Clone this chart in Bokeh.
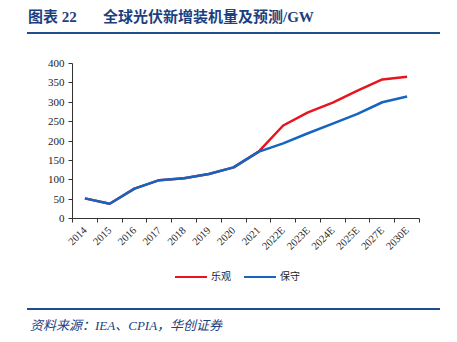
from bokeh.plotting import figure
from bokeh.models import (Range1d, FixedTicker, ColumnDataSource, Div)
from bokeh.layouts import column
from bokeh.embed import file_html
from bokeh.resources import INLINE
import math

years = ["2014", "2015", "2016", "2017", "2018", "2019", "2020", "2021",
         "2022E", "2023E", "2024E", "2025E", "2027E", "2030E"]
optimistic = [52, 38, 77, 99, 104, 115, 132, 172, 240, 274, 299, 330, 359, 366]
conservative = [52, 38, 77, 99, 104, 115, 132, 172, 194, 220, 245, 270, 300, 315]
y_ticks = [0, 50, 100, 150, 200, 250, 300, 350, 400]
series_names = ["乐观", "保守"]
series_colors = ["#E8141E", "#1565C0"]

W = 457
TITLE_H, LEG_H, SRC_H = 36, 28, 52
FIG_H = 342 - TITLE_H - LEG_H - SRC_H
FL, FR, FT, FB = 72, 419, 63 - TITLE_H, 218 - TITLE_H

xs = [i + 0.5 for i in range(len(years))]
src = ColumnDataSource(dict(x=xs, opt=optimistic, con=conservative))

serif = "'Liberation Serif', 'Noto Sans CJK SC'"
title_color = "#1C3F80"
rule_color = "#1F4E8C"

p = figure(width=W, height=FIG_H, output_backend="svg", toolbar_location=None,
           x_range=Range1d(0, len(years)), y_range=Range1d(0, 400),
           min_border_left=FL, min_border_right=W - FR,
           min_border_top=FT, min_border_bottom=FIG_H - FB,
           sizing_mode="fixed", margin=0)
p.outline_line_color = None
p.xgrid.visible = False
p.ygrid.visible = False

xa = p.xaxis[0]
xa.ticker = FixedTicker(ticks=xs, minor_ticks=list(range(len(years) + 1)))
xa.major_label_overrides = {x: y for x, y in zip(xs, years)}
xa.major_tick_line_color = None
xa.minor_tick_in = 0
xa.minor_tick_out = 4
xa.minor_tick_line_color = "#333333"
xa.axis_line_color = "#333333"
xa.major_label_orientation = math.pi / 4
xa.major_label_text_font = "Liberation Serif"
xa.major_label_text_font_size = "10.5px"
xa.major_label_text_color = "#222222"
xa.major_label_standoff = 4

ya = p.yaxis[0]
ya.ticker = FixedTicker(ticks=y_ticks)
ya.minor_tick_line_color = None
ya.major_tick_in = 0
ya.major_tick_out = 4
ya.major_tick_line_color = "#333333"
ya.axis_line_color = "#333333"
ya.major_label_text_font = "Liberation Serif"
ya.major_label_text_font_size = "11px"
ya.major_label_text_color = "#222222"
ya.major_label_standoff = 4

p.line("x", "opt", source=src, line_color=series_colors[0], line_width=2.5)
p.line("x", "con", source=src, line_color=series_colors[1], line_width=2.5)

title = Div(text=(
    f'<div style="margin-left:27px;width:413px;height:34px;border-bottom:2px solid {rule_color};'
    f'font-family:{serif};font-weight:bold;font-size:15px;color:{title_color};'
    f'line-height:15px;box-sizing:border-box;position:relative;">'
    f'<span style="position:absolute;left:1px;top:10px;white-space:nowrap;">图表 22</span>'
    f'<span style="position:absolute;left:76px;top:10px;white-space:nowrap;">全球光伏新增装机量及预测/GW</span></div>'),
    width=W, height=TITLE_H, margin=0)

leg_items = "".join(
    f'<span style="display:inline-block;width:32px;height:0;border-top:2.5px solid {c};'
    f'vertical-align:middle;margin-right:4px;"></span>'
    f'<span style="vertical-align:middle;margin-right:13px;">{n}</span>'
    for n, c in zip(series_names, series_colors))
legend = Div(text=(
    f'<div style="position:relative;width:{W}px;height:{LEG_H}px;font-family:{serif};'
    f'font-size:10px;color:#222;">'
    f'<div style="position:absolute;left:175px;top:8px;white-space:nowrap;line-height:12px;">'
    f'{leg_items}</div></div>'),
    width=W, height=LEG_H, margin=0)

source = Div(text=(
    f'<div style="position:relative;height:{SRC_H}px;">'
    f'<div style="position:absolute;left:27px;top:18px;width:413px;height:0;'
    f'border-top:2px solid {rule_color};"></div>'
    f'<span style="position:absolute;left:30px;top:27px;white-space:nowrap;'
    f'font-family:{serif};font-style:italic;font-size:13px;color:{title_color};">'
    f'资料来源：IEA、CPIA，华创证券</span></div>'),
    width=W, height=SRC_H, margin=0)

layout = column(title, p, legend, source, spacing=0, margin=0)
open("out.html", "w").write(file_html(layout, INLINE))
